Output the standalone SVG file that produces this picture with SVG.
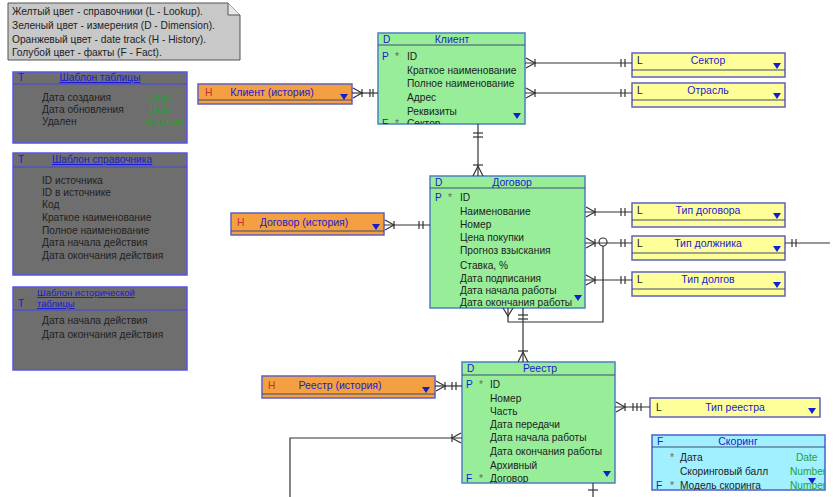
<svg xmlns="http://www.w3.org/2000/svg" width="837" height="497" viewBox="0 0 837 497">
<defs>
<style>
text{font-family:"Liberation Sans",Arial,sans-serif;font-size:10.2px;fill:#222}
.hd{fill:#1b1bd0;text-anchor:middle;font-size:10.5px}
.th{fill:#1b1bd0}
.k{fill:#1b1bd0}
.kh{fill:#c03030}
.st{fill:#666}
.ty{fill:#2aa02a}
.tpl{fill:#6e6e6e;stroke:#5555ee;stroke-width:1.5}
.tsep{stroke:#4444dd;stroke-width:1.2}
.dim{fill:#98ee98;stroke:#4a80c0;stroke-width:1.5}
.his{fill:#f4a040;stroke:#6060c0;stroke-width:1.5}
.lk{fill:#ffff99;stroke:#6060c0;stroke-width:1.5}
.fct{fill:#a0f0ff;stroke:#4a60d0;stroke-width:1.5}
.sep{stroke:#3a4a7a;stroke-width:1.2}
.tri{fill:#1020d0}
.cn line,.cn path,.cn polyline{stroke:#333;stroke-width:1.2;fill:none}
</style>
<path id="tri" d="M-4,-3 L4,-3 L0,3 Z"/>
<clipPath id="cK"><rect x="378" y="33" width="147" height="91"/></clipPath>
<clipPath id="cD"><rect x="430" y="176" width="155" height="132"/></clipPath>
<clipPath id="cR"><rect x="462" y="362" width="153" height="121"/></clipPath>
<clipPath id="cS"><rect x="652" y="435" width="173" height="55"/></clipPath>
<clipPath id="cT1"><rect x="13" y="72" width="174" height="71"/></clipPath>
</defs>
<rect width="837" height="497" fill="#fff"/>

<g id="legend">
<path d="M8,3 H228 L240,15 V60 H8 Z" fill="#c8c8c8" stroke="#555" stroke-width="1"/>
<path d="M228,3 V15 H240" fill="#e8e8e8" stroke="#555"/>
<text x="12" y="15">Желтый цвет - справочники (L - Lookup).</text>
<text x="12" y="29">Зеленый цвет - измерения (D - Dimension).</text>
<text x="12" y="43">Оранжевый цвет - date track (H - History).</text>
<text x="12" y="56">Голубой цвет - факты (F - Fact).</text>
</g>

<g id="tpl-table">
<rect class="tpl" x="13" y="72" width="174" height="71"/>
<line class="tsep" x1="13" y1="84" x2="187" y2="84"/>
<text class="k" x="18" y="81">T</text>
<text class="th" x="100" y="81" text-anchor="middle" text-decoration="underline">Шаблон таблицы</text>
<g clip-path="url(#cT1)">
<text x="42" y="101">Дата создания</text><text class="ty" x="150" y="101">Date</text>
<text x="42" y="113">Дата обновления</text><text class="ty" x="150" y="113">Date</text>
<text x="42" y="125">Удален</text><text class="ty" x="146" y="125">Boolean</text>
</g>
</g>

<g id="tpl-lookup">
<rect class="tpl" x="13" y="153" width="174" height="122"/>
<line class="tsep" x1="13" y1="167" x2="187" y2="167"/>
<text class="k" x="18" y="163">T</text>
<text class="th" x="102" y="163" text-anchor="middle" text-decoration="underline">Шаблон справочника</text>
<text x="42" y="184">ID источника</text>
<text x="42" y="196">ID в источнике</text>
<text x="42" y="208">Код</text>
<text x="42" y="221">Краткое наименование</text>
<text x="42" y="234">Полное наименование</text>
<text x="42" y="246">Дата начала действия</text>
<text x="42" y="259">Дата окончания действия</text>
</g>

<g id="tpl-history">
<rect class="tpl" x="13" y="287" width="174" height="83"/>
<line class="tsep" x1="13" y1="310" x2="187" y2="310"/>
<text class="k" x="18" y="307">T</text>
<text class="th" x="37" y="296" style="font-size:9.5px" text-decoration="underline">Шаблон исторической</text>
<text class="th" x="37" y="307" style="font-size:9.5px" text-decoration="underline">таблицы</text>
<text x="42" y="324">Дата начала действия</text>
<text x="42" y="338">Дата окончания действия</text>
</g>

<g id="client">
<rect class="dim" x="378" y="33" width="147" height="91"/>
<line class="sep" x1="378" y1="45" x2="525" y2="45"/>
<text class="k" x="383" y="43">D</text>
<text class="hd" x="452" y="43">Клиент</text>
<g clip-path="url(#cK)">
<text class="k" x="382" y="60">P</text><text class="st" x="395" y="60">*</text><text x="407" y="60">ID</text>
<text x="407" y="74">Краткое наименование</text>
<text x="407" y="87">Полное наименование</text>
<text x="407" y="101">Адрес</text>
<text x="407" y="115">Реквизиты</text>
<text class="k" x="382" y="127">F</text><text class="st" x="395" y="127">*</text><text x="407" y="127">Сектор</text>
</g>
<use href="#tri" x="517" y="116" class="tri"/>
</g>

<g id="client-hist">
<rect class="his" x="198" y="84" width="154" height="20"/>
<line class="sep" x1="198" y1="100" x2="352" y2="100"/>
<text class="kh" x="205" y="96">H</text>
<text class="hd" x="272" y="96">Клиент (история)</text>
<use href="#tri" x="344" y="97" class="tri"/>
</g>

<g id="sector">
<rect class="lk" x="632" y="53" width="153" height="24"/>
<line class="sep" x1="632" y1="70" x2="785" y2="70"/>
<text x="637" y="64">L</text>
<text class="hd" x="708" y="64">Сектор</text>
<use href="#tri" x="777" y="66" class="tri"/>
</g>

<g id="industry">
<rect class="lk" x="632" y="83" width="153" height="24"/>
<line class="sep" x1="632" y1="100" x2="785" y2="100"/>
<text x="637" y="94">L</text>
<text class="hd" x="708" y="94">Отрасль</text>
<use href="#tri" x="777" y="96" class="tri"/>
</g>

<g id="contract">
<rect class="dim" x="430" y="176" width="155" height="132"/>
<line class="sep" x1="430" y1="188" x2="585" y2="188"/>
<text class="k" x="435" y="186">D</text>
<text class="hd" x="512" y="186">Договор</text>
<g clip-path="url(#cD)">
<text class="k" x="435" y="201">P</text><text class="st" x="448" y="201">*</text><text x="460" y="201">ID</text>
<text x="460" y="215">Наименование</text>
<text x="460" y="228">Номер</text>
<text x="460" y="241">Цена покупки</text>
<text x="460" y="254">Прогноз взыскания</text>
<text x="460" y="269">Ставка, %</text>
<text x="460" y="282">Дата подписания</text>
<text x="460" y="294">Дата начала работы</text>
<text x="460" y="306">Дата окончания работы</text>
</g>
<use href="#tri" x="578" y="298" class="tri"/>
</g>

<g id="contract-hist">
<rect class="his" x="231" y="213" width="153" height="22"/>
<line class="sep" x1="231" y1="231" x2="384" y2="231"/>
<text class="kh" x="237" y="226">H</text>
<text class="hd" x="304" y="226">Договор (история)</text>
<use href="#tri" x="376" y="227" class="tri"/>
</g>

<g id="contract-type">
<rect class="lk" x="632" y="203" width="153" height="24"/>
<line class="sep" x1="632" y1="220" x2="785" y2="220"/>
<text x="637" y="214">L</text>
<text class="hd" x="708" y="214">Тип договора</text>
<use href="#tri" x="777" y="216" class="tri"/>
</g>

<g id="debtor-type">
<rect class="lk" x="632" y="236" width="153" height="24"/>
<line class="sep" x1="632" y1="253" x2="785" y2="253"/>
<text x="637" y="247">L</text>
<text class="hd" x="708" y="247">Тип должника</text>
<use href="#tri" x="777" y="249" class="tri"/>
</g>

<g id="debt-type">
<rect class="lk" x="632" y="272" width="153" height="24"/>
<line class="sep" x1="632" y1="289" x2="785" y2="289"/>
<text x="637" y="283">L</text>
<text class="hd" x="708" y="283">Тип долгов</text>
<use href="#tri" x="777" y="285" class="tri"/>
</g>

<g id="registry">
<rect class="dim" x="462" y="362" width="153" height="121"/>
<line class="sep" x1="462" y1="375" x2="615" y2="375"/>
<text class="k" x="467" y="372">D</text>
<text class="hd" x="540" y="372">Реестр</text>
<g clip-path="url(#cR)">
<text class="k" x="466" y="388">P</text><text class="st" x="479" y="388">*</text><text x="490" y="388">ID</text>
<text x="490" y="402">Номер</text>
<text x="490" y="415">Часть</text>
<text x="490" y="428">Дата передачи</text>
<text x="490" y="441">Дата начала работы</text>
<text x="490" y="455">Дата окончания работы</text>
<text x="490" y="469">Архивный</text>
<text class="k" x="466" y="482">F</text><text class="st" x="479" y="482">*</text><text x="490" y="482">Договор</text>
</g>
<use href="#tri" x="607" y="474" class="tri"/>
</g>

<g id="registry-hist">
<rect class="his" x="262" y="376" width="173" height="22"/>
<line class="sep" x1="262" y1="394" x2="435" y2="394"/>
<text class="kh" x="268" y="389">H</text>
<text class="hd" x="340" y="389">Реестр (история)</text>
<use href="#tri" x="426" y="390" class="tri"/>
</g>

<g id="registry-type">
<rect class="lk" x="650" y="398" width="170" height="19"/>
<text x="656" y="411">L</text>
<text class="hd" x="735" y="411">Тип реестра</text>
<use href="#tri" x="812" y="411" class="tri"/>
</g>

<g id="scoring">
<rect class="fct" x="652" y="435" width="173" height="55"/>
<line class="sep" x1="652" y1="447" x2="825" y2="447"/>
<text class="k" x="657" y="445">F</text>
<text class="hd" x="738" y="445">Скоринг</text>
<g clip-path="url(#cS)">
<text class="st" x="670" y="461">*</text><text x="680" y="461">Дата</text><text class="ty" x="796" y="461">Date</text>
<text x="680" y="475">Скоринговый балл</text><text class="ty" x="790" y="475">Number</text>
<text class="k" x="656" y="489">F</text><text class="st" x="670" y="489">*</text><text x="680" y="489">Модель скоринга</text><text class="ty" x="790" y="489">Number</text>
</g>
<use href="#tri" x="812" y="481" class="tri"/>
</g>

<g id="connectors" class="cn">
<line x1="352" y1="93" x2="378" y2="93"/>
<path d="M353,88 L362,93 L353,98"/><line x1="362" y1="89" x2="362" y2="97"/>
<line x1="370" y1="89" x2="370" y2="97"/><line x1="373" y1="89" x2="373" y2="97"/>
<line x1="525" y1="63" x2="632" y2="63"/>
<path d="M526,58 L535,63 L526,68"/><line x1="535" y1="59" x2="535" y2="67"/>
<line x1="621" y1="59" x2="621" y2="67"/><line x1="625" y1="59" x2="625" y2="67"/>
<line x1="525" y1="93" x2="632" y2="93"/>
<path d="M526,88 L535,93 L526,98"/><line x1="535" y1="89" x2="535" y2="97"/>
<line x1="621" y1="89" x2="621" y2="97"/><line x1="625" y1="89" x2="625" y2="97"/>
<line x1="478" y1="124" x2="478" y2="176"/>
<line x1="473" y1="133" x2="483" y2="133"/><line x1="473" y1="137" x2="483" y2="137"/>
<path d="M473,176 L478,166 L483,176"/><line x1="473" y1="165" x2="483" y2="165"/>
<line x1="384" y1="225" x2="430" y2="225"/>
<path d="M385,220 L394,225 L385,230"/><line x1="394" y1="221" x2="394" y2="229"/>
<line x1="419" y1="221" x2="419" y2="229"/><line x1="423" y1="221" x2="423" y2="229"/>
<line x1="585" y1="212" x2="632" y2="212"/>
<path d="M586,207 L595,212 L586,217"/><line x1="595" y1="208" x2="595" y2="216"/>
<line x1="621" y1="208" x2="621" y2="216"/><line x1="625" y1="208" x2="625" y2="216"/>
<line x1="585" y1="243" x2="632" y2="243"/>
<path d="M586,238 L595,243 L586,248"/><line x1="595" y1="239" x2="595" y2="247"/>
<circle cx="603" cy="242" r="4" stroke="#333" fill="none" stroke-width="1.2"/>
<line x1="621" y1="239" x2="621" y2="247"/><line x1="625" y1="239" x2="625" y2="247"/>
<line x1="785" y1="243" x2="830" y2="243"/>
<line x1="792" y1="239" x2="792" y2="247"/><line x1="796" y1="239" x2="796" y2="247"/>
<polyline points="508,308 508,322 603,322 603,246"/>
<path d="M503,308 L508,316 L513,308"/>
<line x1="585" y1="280" x2="632" y2="280"/>
<path d="M586,275 L595,280 L586,285"/><line x1="595" y1="276" x2="595" y2="284"/>
<line x1="621" y1="276" x2="621" y2="284"/><line x1="625" y1="276" x2="625" y2="284"/>
<line x1="523" y1="308" x2="523" y2="362"/>
<line x1="518" y1="315" x2="528" y2="315"/><line x1="518" y1="319" x2="528" y2="319"/>
<path d="M518,362 L523,352 L528,362"/><line x1="518" y1="351" x2="528" y2="351"/>
<line x1="435" y1="386" x2="462" y2="386"/>
<path d="M436,381 L445,386 L436,391"/><line x1="445" y1="382" x2="445" y2="390"/>
<line x1="452" y1="382" x2="452" y2="390"/><line x1="456" y1="382" x2="456" y2="390"/>
<line x1="615" y1="407" x2="650" y2="407"/>
<path d="M616,402 L625,407 L616,412"/><line x1="625" y1="403" x2="625" y2="411"/>
<line x1="633" y1="403" x2="633" y2="411"/><line x1="637" y1="403" x2="637" y2="411"/><line x1="641" y1="403" x2="641" y2="411"/>
<polyline points="462,438 290,438 290,497"/>
<path d="M461,433 L452,438 L461,443"/><line x1="452" y1="434" x2="452" y2="442"/>
<line x1="593" y1="483" x2="593" y2="497"/>
<line x1="588" y1="490" x2="598" y2="490"/>
</g>
</svg>
